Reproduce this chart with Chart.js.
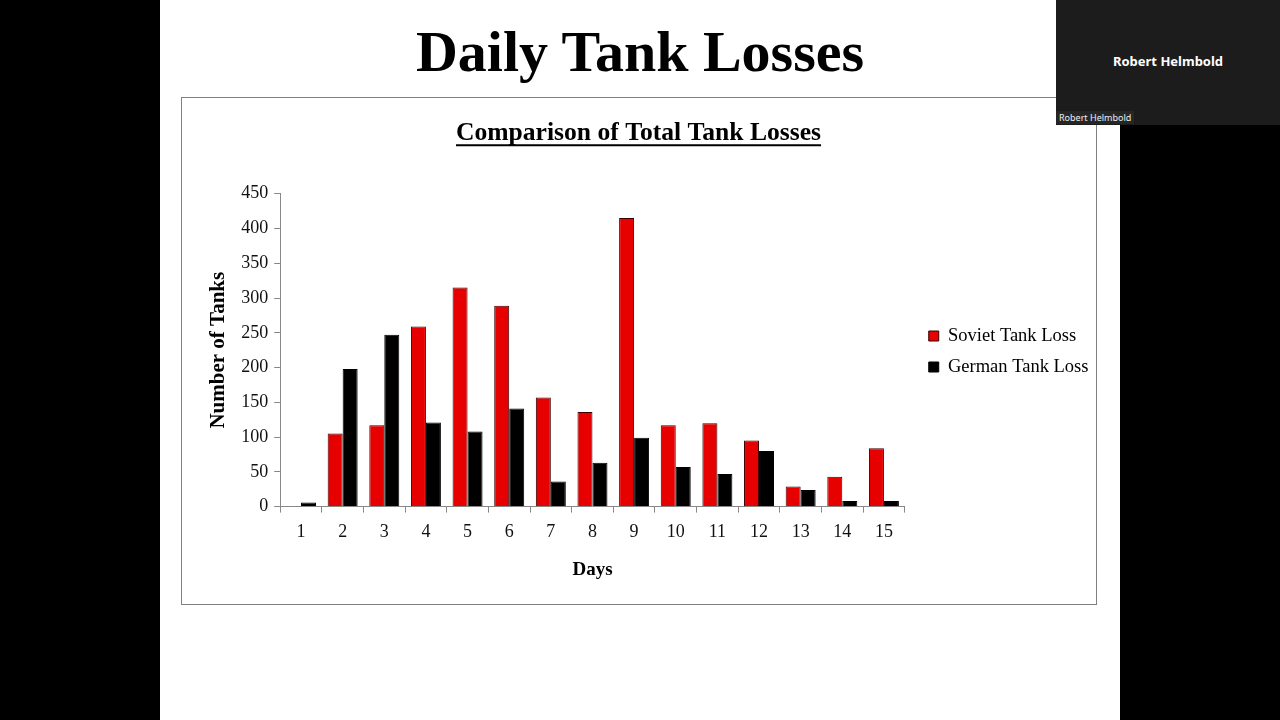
<!DOCTYPE html>
<html>
<head>
<meta charset="utf-8">
<script src="https://cdn.jsdelivr.net/npm/chart.js@4"></script>
<style>
  html, body { margin: 0; padding: 0; background: #000; }
  body { width: 1280px; height: 720px; position: relative; overflow: hidden; }
  #slide { position: absolute; left: 160px; top: 0; width: 960px; height: 720px; background: #fff; }
  #slideTitle { position: absolute; left: 0; width: 960px; top: 18px; text-align: center;
    font-family: 'Liberation Serif', serif; font-weight: bold; font-size: 58px; color: #000; }
  #box { position: absolute; left: 181px; top: 97px; width: 914px; height: 506px; border: 1px solid #808080; background: #fff; }
  #cam { position: absolute; left: 1056px; top: 0; width: 224px; height: 125px; background: #1c1c1c;
    font-family: 'Noto Sans', sans-serif; color: #fff; }
  #camName { position: absolute; left: 0; width: 224px; top: 52px; text-align: center; font-weight: bold; font-size: 13px; }
  #camTag { position: absolute; left: 0; top: 111px; padding: 0 3px; font-size: 9px; background: #262626; color: #eee; }
</style>
</head>
<body>
<div id="slide"><div id="slideTitle">Daily Tank Losses</div></div>
<div id="box"><canvas id="myChart" width="914" height="506"></canvas></div>
<div id="cam"><div id="camName">Robert Helmbold</div><div id="camTag">Robert Helmbold</div></div>
<script>
var days = ['1','2','3','4','5','6','7','8','9','10','11','12','13','14','15'];
var sovietLoss = [0, 105, 117, 259, 315, 289, 157, 136, 415, 117, 120, 95, 29, 43, 84];
var germanLoss = [6, 198, 247, 121, 108, 141, 36, 63, 99, 57, 47, 80, 24, 8, 8];

var serif = "'Liberation Serif', 'Times New Roman', serif";

// chart.js has no underline for the title, so draw one
var underline = {
  id: 'underline',
  afterDraw: function(chart) {
    var t = chart.titleBlock;
    var c = chart.ctx;
    var opts = chart.options.plugins.title;
    c.save();
    c.font = 'bold ' + opts.font.size + 'px ' + serif;
    var w = c.measureText(opts.text).width;
    var cx = (t.left + t.right) / 2;
    var cy = t.top + opts.padding.top + opts.font.size * 0.6 + 12;
    c.strokeStyle = '#000';
    c.lineWidth = 2;
    c.beginPath();
    c.moveTo(cx - w / 2, cy);
    c.lineTo(cx + w / 2, cy);
    c.stroke();
    c.restore();
  }
};

// push the legend a bit right and down, into the right padding
var shiftLegend = {
  id: 'shiftLegend',
  afterLayout: function(chart) {
    var l = chart.legend;
    l.left += 11.5;
    l.right += 11.5;
    l.top += 8;
    l.bottom += 8;
  }
};

var ctx = document.getElementById('myChart').getContext('2d');
var myChart = new Chart(ctx, {
    type: 'bar',
    data: {
      labels: days,
      datasets: [{
        label: 'Soviet Tank Loss',
        data: sovietLoss,
        backgroundColor: '#e60000',
        borderColor: '#3a0000',
        borderWidth: 1,
        borderSkipped: 'bottom'
      }, {
        label: 'German Tank Loss',
        data: germanLoss,
        backgroundColor: '#000',
        borderColor: '#000',
        borderWidth: 1,
        borderSkipped: 'bottom'
      }]
    },
    options: {
      responsive: false,
      animation: false,
      layout: { padding: { left: 8, right: 9, top: 4, bottom: 19 } },
      datasets: { bar: { barPercentage: 1, categoryPercentage: 0.72 } },
      scales: {
        x: {
          grid: { display: true, drawOnChartArea: false, drawTicks: true, tickLength: 6, color: '#888', offset: true },
          border: { color: '#888' },
          ticks: { color: '#111', font: { family: serif, size: 18 }, padding: 9 },
          title: { display: true, text: 'Days', color: '#000', font: { family: serif, size: 19, weight: 'bold' }, padding: { top: 6 } }
        },
        y: {
          min: 0,
          max: 450,
          grid: { display: true, drawOnChartArea: false, drawTicks: true, tickLength: 6, color: '#888' },
          border: { color: '#888' },
          ticks: { stepSize: 50, color: '#111', font: { family: serif, size: 18 }, padding: 6 },
          title: { display: true, text: 'Number of Tanks', color: '#000', font: { family: serif, size: 21, weight: 'bold' }, padding: { top: 16, bottom: 4 } }
        }
      },
      plugins: {
        legend: {
          position: 'right',
          labels: {
            boxWidth: 10,
            boxHeight: 10,
            padding: 12.5,
            color: '#000',
            font: { family: serif, size: 18.5 }
          }
        },
        title: {
          display: true,
          text: 'Comparison of Total Tank Losses',
          color: '#000',
          font: { family: serif, size: 25.6, weight: 'bold' },
          padding: { top: 16, bottom: 45 }
        },
        tooltip: { enabled: false }
      }
    },
    plugins: [underline, shiftLegend]
  });
</script>
</body>
</html>
